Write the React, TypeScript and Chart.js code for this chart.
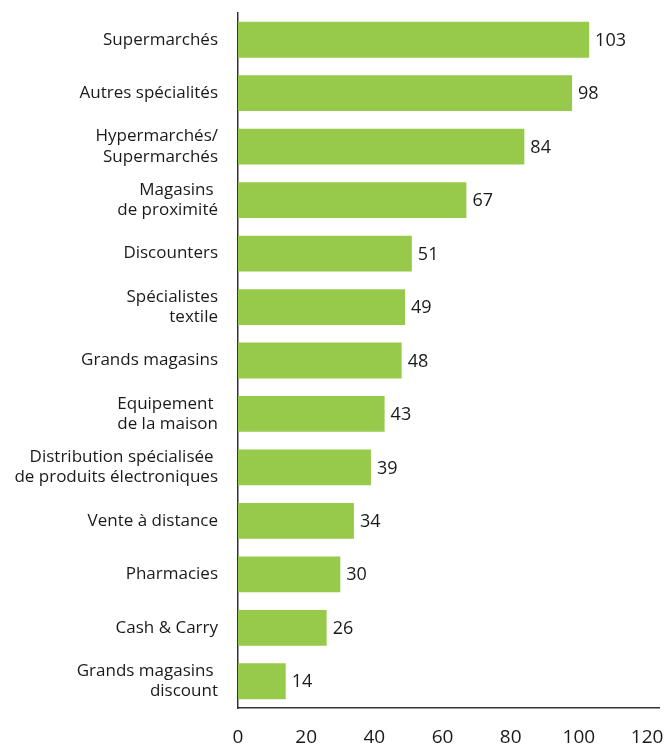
import React, { useEffect, useLayoutEffect, useRef } from "react";
import { Chart, registerables } from "chart.js";

Chart.register(...registerables);

const categories: (string | string[])[] = [
  "Supermarchés",
  "Autres spécialités",
  ["Hypermarchés/", "Supermarchés"],
  ["Magasins ", "de proximité"],
  "Discounters",
  ["Spécialistes", "textile"],
  "Grands magasins",
  ["Equipement ", "de la maison"],
  ["Distribution spécialisée ", "de produits électroniques"],
  "Vente à distance",
  "Pharmacies",
  "Cash & Carry",
  ["Grands magasins ", "discount"],
];

const values: number[] = [103, 98, 84, 67, 51, 49, 48, 43, 39, 34, 30, 26, 14];

const xTicks: number[] = [0, 20, 40, 60, 80, 100, 120];

const FONT = "'Open Sans', 'Noto Sans', sans-serif";
const TEXT = "#1a1a1a";
const GREEN = "#97c94b";

const valueLabels = {
  id: "valueLabels",
  afterDatasetsDraw(chart: any) {
    const ctx = chart.ctx;
    const meta = chart.getDatasetMeta(0);
    ctx.save();
    ctx.font = `18px ${FONT}`;
    ctx.fillStyle = TEXT;
    ctx.textAlign = "left";
    ctx.textBaseline = "middle";
    meta.data.forEach((bar: any, i: number) => {
      ctx.fillText(String(values[i]), bar.x + 6, bar.y + 1);
    });
    ctx.restore();
  },
};

export default function App() {
  const ref = useRef<HTMLCanvasElement>(null);
  useLayoutEffect(() => {
    document.body.style.margin = "0";
  }, []);
  useEffect(() => {
    if (!ref.current) return;
    const chart = new Chart(ref.current, {
      type: "bar",
      data: {
        labels: categories,
        datasets: [
          {
            data: values,
            backgroundColor: GREEN,
            borderWidth: 0,
            barPercentage: 0.67,
            categoryPercentage: 1,
          },
        ],
      },
      options: {
        indexAxis: "y",
        animation: false,
        responsive: false,
        maintainAspectRatio: false,
        layout: { padding: { top: 5, right: 8, left: 0, bottom: 0 } },
        plugins: {
          legend: { display: false },
          tooltip: { enabled: false },
        },
        scales: {
          x: {
            min: 0,
            max: 123.5,
            grid: { display: false, drawTicks: false },
            border: { display: true, color: "#333333", width: 1.5 },
            afterBuildTicks(scale: any) {
              scale.ticks = xTicks.map((v) => ({ value: v }));
            },
            afterFit(scale: any) {
              scale.height = 37;
              scale.paddingLeft = 0;
              scale.paddingRight = 0;
            },
            ticks: {
              padding: 18,
              color: TEXT,
              font: { family: FONT, size: 19 },
              maxRotation: 0,
            },
          },
          y: {
            grid: { display: false, drawTicks: false },
            border: { display: true, color: "#333333", width: 1.5 },
            afterFit(scale: any) {
              scale.width = 230;
              scale.paddingTop = 0;
              scale.paddingBottom = 0;
            },
            ticks: {
              padding: 20,
              color: TEXT,
              font: { family: FONT, size: 17, lineHeight: 1.2 },
              autoSkip: false,
            },
          },
        },
      },
      plugins: [valueLabels],
    });
    return () => chart.destroy();
  }, []);
  return (
    <div style={{ width: 667, height: 745, position: "relative", overflow: "hidden", background: "#ffffff" }}>
      <canvas
        ref={ref}
        width={659}
        height={737}
        style={{ display: "block", position: "absolute", left: 8, top: 8 }}
      />
    </div>
  );
}
